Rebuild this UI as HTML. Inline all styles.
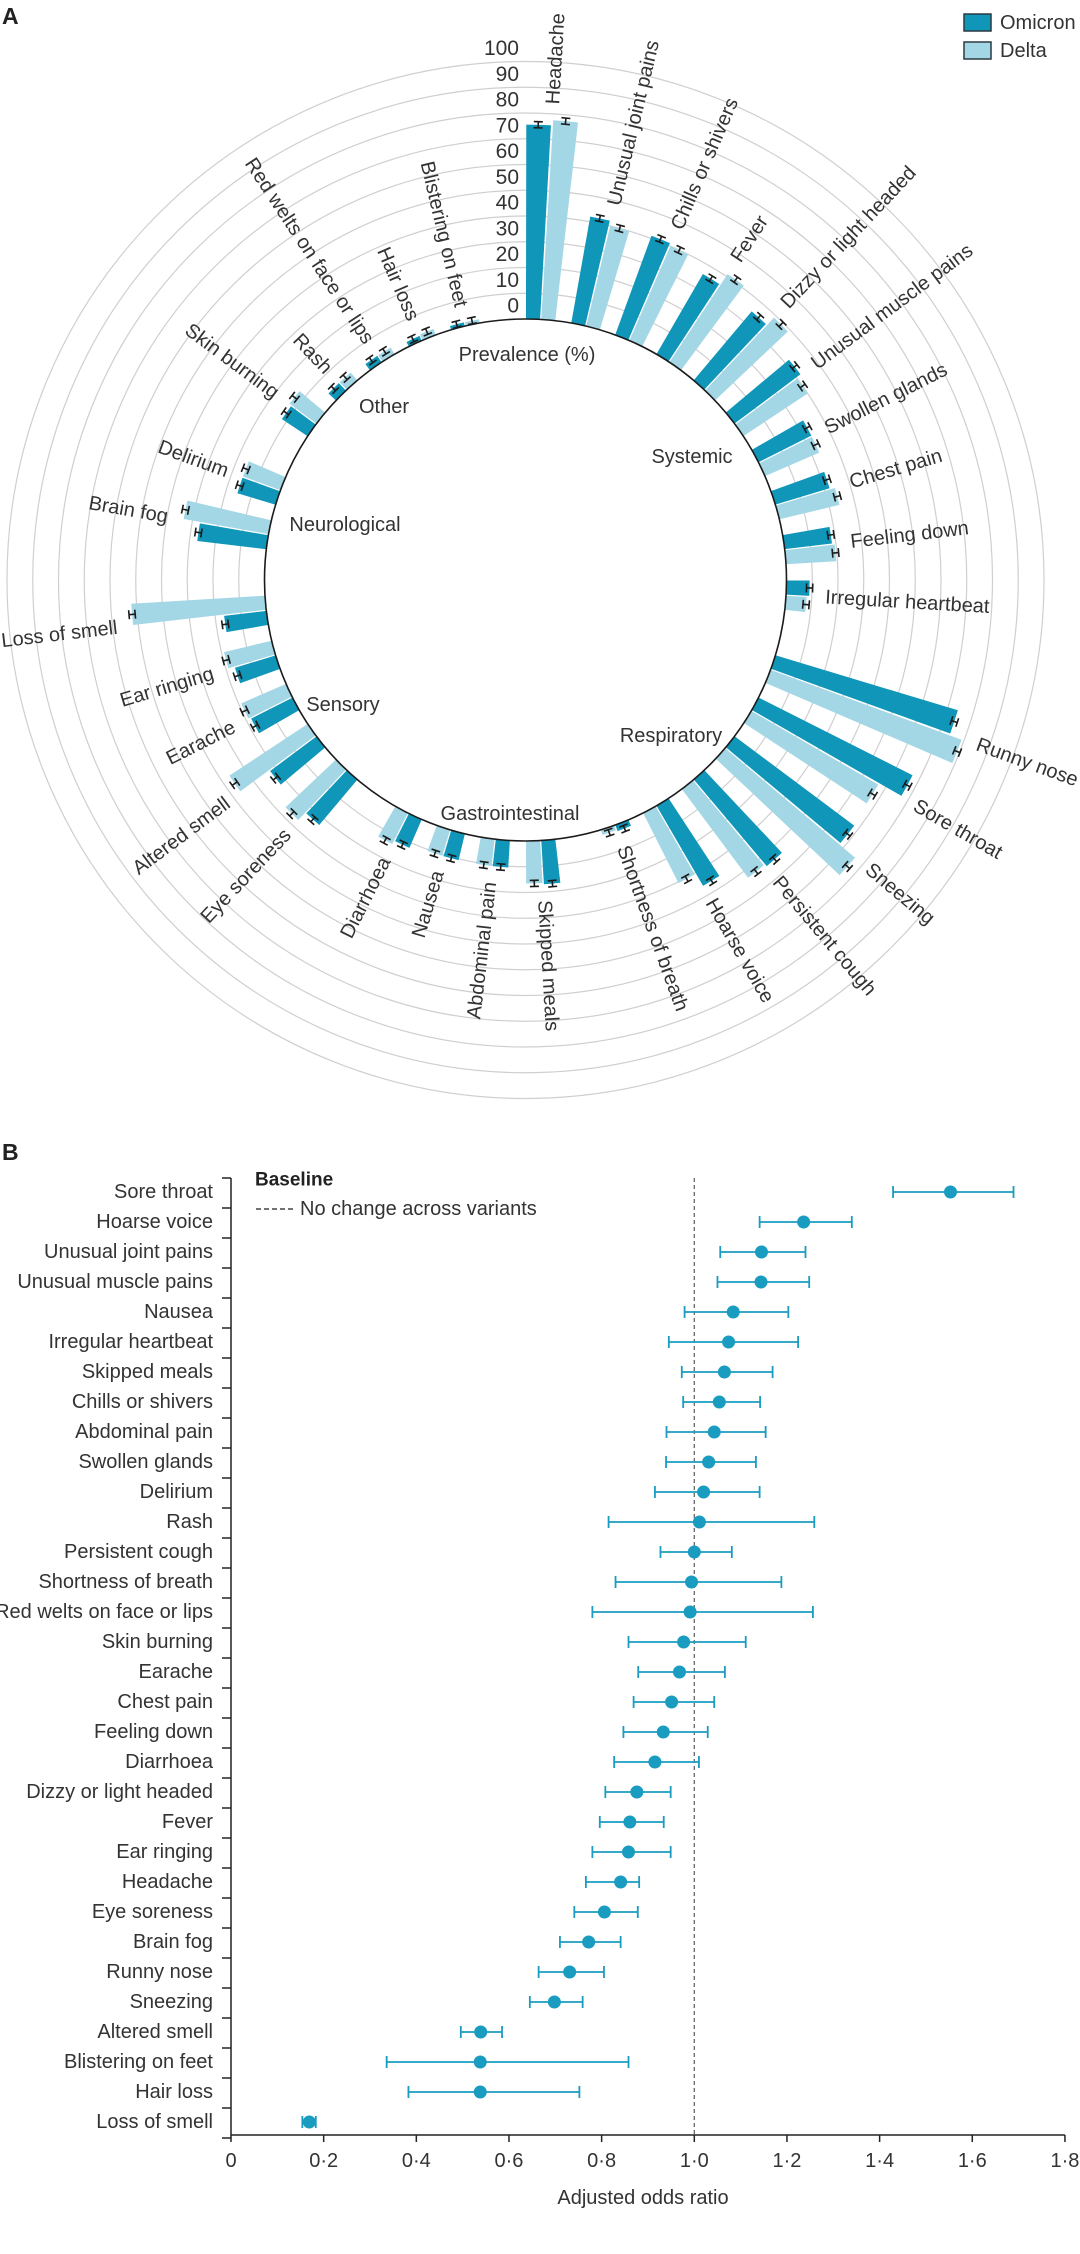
<!DOCTYPE html>
<html><head><meta charset="utf-8"><style>
html,body{margin:0;padding:0;background:#fff;}
svg{display:block;font-family:"Liberation Sans",sans-serif;}
</style></head><body>
<svg id="fig" width="1080" height="2254" viewBox="0 0 1080 2254" xmlns="http://www.w3.org/2000/svg">
<text x="2" y="24" font-size="23" font-weight="bold" fill="#222">A</text>
<text x="2" y="1160" font-size="23" font-weight="bold" fill="#222">B</text>
<g>
<rect x="964" y="14" width="27" height="17" fill="#1096b8" stroke="#2a3a40" stroke-width="1.5"/>
<text x="1000" y="29" font-size="20" fill="#333">Omicron</text>
<rect x="964" y="42" width="27" height="17" fill="#a4d7e6" stroke="#2a3a40" stroke-width="1.5"/>
<text x="1000" y="57" font-size="20" fill="#333">Delta</text>
</g>
<g id="polar"></g>
<g id="forest"></g>
</svg>
<script>
// ---- Panel A data (clockwise from top) ----
const polarCats = ["Headache","Unusual joint pains","Chills or shivers","Fever","Dizzy or light headed","Unusual muscle pains","Swollen glands","Chest pain","Feeling down","Irregular heartbeat","Runny nose","Sore throat","Sneezing","Persistent cough","Hoarse voice","Shortness of breath","Skipped meals","Abdominal pain","Nausea","Diarrhoea","Eye soreness","Altered smell","Earache","Ear ringing","Loss of smell","Brain fog","Delirium","Skin burning","Rash","Red welts on face or lips","Hair loss","Blistering on feet"];
const polarGroup = [0,0,0,0,0,0,0,0,0,0,1,1,1,1,1,1,2,2,2,2,3,3,3,3,3,4,4,5,5,5,5,5];
const omicronPrev = [75.5,42,41,36,35,32,23,22,18.5,9,74,67,58,44,36,2.5,17,10.5,10.5,12,23,22.5,18,16.5,16.5,27,15.5,12,4,3,2,1.5];
const deltaPrev = [77.5,40,40,41,39,30,23,24,19.5,8,79,57,66,43,30.5,2,16.5,10.5,10.5,13.5,27,36.5,19,19,52,33.5,15.5,13,4,3,2.5,1.5];
const groupNames = ["Systemic","Respiratory","Gastrointestinal","Sensory","Neurological","Other"];
const ringTicks = [0,10,20,30,40,50,60,70,80,90,100];

// ---- Panel B data ----
const forestCats = ["Sore throat","Hoarse voice","Unusual joint pains","Unusual muscle pains","Nausea","Irregular heartbeat","Skipped meals","Chills or shivers","Abdominal pain","Swollen glands","Delirium","Rash","Persistent cough","Shortness of breath","Red welts on face or lips","Skin burning","Earache","Chest pain","Feeling down","Diarrhoea","Dizzy or light headed","Fever","Ear ringing","Headache","Eye soreness","Brain fog","Runny nose","Sneezing","Altered smell","Blistering on feet","Hair loss","Loss of smell"];
const oddsRatio = [1.553,1.236,1.145,1.144,1.084,1.074,1.065,1.054,1.043,1.031,1.020,1.011,1.000,0.994,0.991,0.977,0.968,0.951,0.933,0.915,0.876,0.861,0.858,0.841,0.806,0.772,0.731,0.698,0.539,0.538,0.538,0.169];
const ciLow = [1.429,1.141,1.056,1.050,0.979,0.945,0.973,0.976,0.940,0.939,0.915,0.815,0.927,0.830,0.780,0.858,0.879,0.869,0.847,0.827,0.808,0.796,0.780,0.766,0.741,0.710,0.664,0.645,0.496,0.336,0.383,0.154];
const ciHigh = [1.689,1.340,1.240,1.248,1.203,1.224,1.169,1.142,1.154,1.133,1.141,1.259,1.081,1.188,1.256,1.111,1.066,1.043,1.029,1.010,0.949,0.934,0.949,0.881,0.878,0.841,0.805,0.759,0.585,0.858,0.752,0.183];
const xTicks = [0,0.2,0.4,0.6,0.8,1.0,1.2,1.4,1.6,1.8];
const xTickLabels = ["0","0·2","0·4","0·6","0·8","1·0","1·2","1·4","1·6","1·8"];

const NS = "http://www.w3.org/2000/svg";
function mk(tag, attrs, parent){const e=document.createElementNS(NS,tag);for(const k in attrs)e.setAttribute(k,attrs[k]);parent.appendChild(e);return e;}

// ===== Panel A =====
const polar = document.getElementById("polar");
const cx = 525.5, cy = 580, r0 = 261, k = 2.575;
const slot = 10, gapExtra = 20/3;
function rScale(v){return r0 + k*v;}
function slotStart(i){return i*slot + polarGroup[i]*gapExtra;}
function pt(r,a){const t=a*Math.PI/180;return [cx+r*Math.sin(t), cy-r*Math.cos(t)];}
function wedge(ri,ro,a1,a2){
  const p1=pt(ri,a1),p2=pt(ro,a1),p3=pt(ro,a2),p4=pt(ri,a2);
  return `M${p1[0]},${p1[1]}L${p2[0]},${p2[1]}A${ro},${ro} 0 0 1 ${p3[0]},${p3[1]}L${p4[0]},${p4[1]}A${ri},${ri} 0 0 0 ${p1[0]},${p1[1]}Z`;
}
ringTicks.forEach(function(t){
  if(t===0) return;
  const c = mk("circle",{cx:cx,cy:cy,r:rScale(t),fill:"none",stroke:"#cfcfcf","stroke-width":1.2},polar);
  
  
});
ringTicks.forEach(function(t){
  const tx = mk("text",{x:519,y:cy-rScale(t)-13,"text-anchor":"end","dominant-baseline":"central","font-size":21,fill:"#333"},polar);
  tx.textContent = t;
  
  
});
function errBar(v,a,name){
  const t=a*Math.PI/180, tx=Math.cos(t), ty=Math.sin(t), h=4.5;
  const p1=pt(rScale(v-1.2),a), p2=pt(rScale(v+1.2),a);
  const d=`M${p1[0]},${p1[1]}L${p2[0]},${p2[1]}M${p1[0]-tx*h},${p1[1]-ty*h}L${p1[0]+tx*h},${p1[1]+ty*h}M${p2[0]-tx*h},${p2[1]-ty*h}L${p2[0]+tx*h},${p2[1]+ty*h}`;
  const e = mk("path",{d:d,stroke:"#1b1b1b","stroke-width":1.6,fill:"none"},polar);
  
  
}
polarCats.forEach(function(c,i){
  const s = slotStart(i);
  const slug = c.toLowerCase().replace(/[^a-z]+/g,'-');
  const bo = mk("path",{d:wedge(r0,rScale(omicronPrev[i]),s+0.1,s+3.2),fill:"#1096b8"},polar);
  
  
  const bd = mk("path",{d:wedge(r0,rScale(deltaPrev[i]),s+3.45,s+6.55),fill:"#a4d7e6"},polar);
  
  
  errBar(omicronPrev[i], s+1.6, 'error-omicron-'+slug);
  errBar(deltaPrev[i], s+5.0, 'error-delta-'+slug);
  const a = s+3.33;
  const rl = rScale(Math.max(omicronPrev[i],deltaPrev[i])) + 16;
  const p = pt(rl,a);
  let rot, anchor;
  if(a<180){rot=a-90;anchor="start";}else{rot=a+90;anchor="end";}
  const lt = mk("text",{transform:`translate(${p[0]},${p[1]}) rotate(${rot})`,"text-anchor":anchor,"dominant-baseline":"central","font-size":20,fill:"#333"},polar);
  lt.textContent = c;
  
  
});
const inner = mk("circle",{cx:cx,cy:cy,r:r0,fill:"none",stroke:"#1b1b1b","stroke-width":1.6},polar);


const groupPos = [[692,457],[671,736],[510,814],[343,705],[345,525],[384,407]];
groupNames.forEach(function(g,j){
  const t = mk("text",{x:groupPos[j][0],y:groupPos[j][1],"text-anchor":"middle","dominant-baseline":"central","font-size":20,fill:"#333"},polar);
  t.textContent = g;
  
  
});
const pv = mk("text",{x:527,y:355,"text-anchor":"middle","dominant-baseline":"central","font-size":20,fill:"#333"},polar);
pv.textContent = "Prevalence (%)";



// ===== Panel B =====
const forest = document.getElementById("forest");
const x0 = 231, xUnit = 463.3, yTop = 1192, rowH = 30, axisY = 2135;
function xs(v){return x0 + v*xUnit;}
function ys(i){return yTop + i*rowH;}
const teal = "#1a9cc0";
const yAxis = mk("line",{x1:x0,y1:1178,x2:x0,y2:axisY,stroke:"#222","stroke-width":1.5},forest);


for(let i=0;i<=forestCats.length;i++){
  const tk = mk("line",{x1:x0-9,y1:ys(i)-14,x2:x0,y2:ys(i)-14,stroke:"#222","stroke-width":1.5},forest);
  
  
}
const xAxis = mk("line",{x1:x0,y1:axisY,x2:xs(1.8),y2:axisY,stroke:"#222","stroke-width":1.5},forest);


xTicks.forEach(function(v,j){
  const tk = mk("line",{x1:xs(v),y1:axisY,x2:xs(v),y2:axisY+7,stroke:"#222","stroke-width":1.5},forest);
  
  
  const tl = mk("text",{x:xs(v),y:2161,"text-anchor":"middle","dominant-baseline":"central","font-size":20,fill:"#333"},forest);
  tl.textContent = xTickLabels[j];
  
  
});
const xTitle = mk("text",{x:643,y:2198,"text-anchor":"middle","dominant-baseline":"central","font-size":20,fill:"#333"},forest);
xTitle.textContent = "Adjusted odds ratio";


const ref = mk("line",{x1:xs(1),y1:1178,x2:xs(1),y2:axisY,stroke:"#666","stroke-width":1.3,"stroke-dasharray":"4,3"},forest);


const lb = mk("text",{x:255,y:1180,"font-size":19,"font-weight":"bold","dominant-baseline":"central",fill:"#222"},forest);
lb.textContent = "Baseline";


const ld = mk("line",{x1:256,y1:1209,x2:293,y2:1209,stroke:"#444","stroke-width":1.5,"stroke-dasharray":"5,3"},forest);


const lt2 = mk("text",{x:300,y:1209,"font-size":20,"dominant-baseline":"central",fill:"#333"},forest);
lt2.textContent = "No change across variants";


forestCats.forEach(function(c,i){
  const y = ys(i);
  const slug = c.toLowerCase().replace(/[^a-z]+/g,'-');
  const t = mk("text",{x:213,y:y,"text-anchor":"end","dominant-baseline":"central","font-size":20,fill:"#333"},forest);
  t.textContent = c;
  
  
  const a=xs(ciLow[i]), b=xs(ciHigh[i]);
  const eb = mk("path",{d:`M${a},${y}L${b},${y}M${a},${y-6}L${a},${y+6}M${b},${y-6}L${b},${y+6}`,stroke:teal,"stroke-width":1.8,fill:"none"},forest);
  
  
  const d = mk("circle",{cx:xs(oddsRatio[i]),cy:y,r:6.5,fill:teal},forest);
  
  
});
</script>
</body></html>
